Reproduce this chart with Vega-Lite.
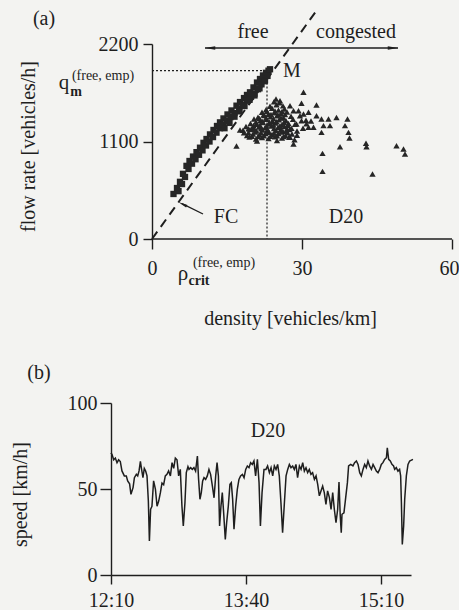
{
  "$schema": "https://vega.github.io/schema/vega-lite/v6.json",
  "background": "#f3f3f1",
  "padding": {"left": 10, "top": 4, "right": 0, "bottom": 0},
  "spacing": 35,
  "config": {
    "font": "Liberation Serif, Times New Roman, serif",
    "view": {"stroke": null},
    "axis": {
      "grid": false,
      "domainColor": "#1e1e1e",
      "tickColor": "#1e1e1e",
      "labelColor": "#1e1e1e",
      "titleColor": "#1e1e1e",
      "labelFont": "Liberation Serif, Times New Roman, serif",
      "titleFont": "Liberation Serif, Times New Roman, serif",
      "labelFontSize": 20,
      "titleFontSize": 20,
      "titleFontWeight": "normal",
      "labelFlush": false,
      "domainWidth": 1.4,
      "tickWidth": 1.4
    },
    "text": {"font": "Liberation Serif, Times New Roman, serif", "color": "#1e1e1e"}
  },
  "vconcat": [
    {
      "width": 341,
      "height": 195,
      "encoding": {
        "x": {"field": "d", "type": "quantitative",
          "scale": {"domain": [-8.2, 60], "nice": false, "zero": false},
          "axis": {"values": [0, 30, 60], "domain": false, "tickSize": 10, "labelPadding": 9, "format": "d",
            "labelFlush": true, "labelFlushOffset": 7,
            "title": "density [vehicles/km]", "titleX": 179, "titleY": 79, "titleAlign": "center", "titleBaseline": "middle"}},
        "y": {"field": "q", "type": "quantitative",
          "scale": {"domain": [0, 2200], "nice": false},
          "axis": {"values": [0, 1100, 2200], "offset": -41, "tickSize": 9, "labelPadding": 5, "format": "d",
            "title": "flow rate [vehicles/h]", "titleX": -124, "titleY": 102, "titleAlign": "center", "titleBaseline": "middle", "titleAngle": 270}}
      },
      "layer": [
        {
          "data": {"values": [{"d": 0, "q": 0, "d2": 60, "q2": 0}]},
          "mark": {"type": "rule", "color": "#1e1e1e", "strokeWidth": 1.4},
          "encoding": {"x2": {"field": "d2"}, "y2": {"field": "q2"}}
        },
        {
          "data": {"values": [{"d": 0, "q": 1900, "d2": 23, "q2": 1900}, {"d": 23, "q": 1900, "d2": 23, "q2": 0}]},
          "mark": {"type": "rule", "color": "#1e1e1e", "strokeWidth": 1.2, "strokeDash": [2, 2]},
          "encoding": {"x2": {"field": "d2"}, "y2": {"field": "q2"}}
        },
        {
          "data": {"values": [{"d": 0, "q": 0}, {"d": 33.2, "q": 2600}]},
          "mark": {"type": "line", "color": "#1e1e1e", "strokeWidth": 2, "strokeDash": [9, 6]},
          "encoding": {}
        },
        {
          "data": {"values": [
            {"d": 4.3, "q": 508, "regime": "free"}, {"d": 5.0, "q": 575, "regime": "free"}, {"d": 5.6, "q": 645, "regime": "free"},
            {"d": 6.2, "q": 735, "regime": "free"}, {"d": 6.9, "q": 825, "regime": "free"}, {"d": 7.5, "q": 880, "regime": "free"},
            {"d": 8.2, "q": 930, "regime": "free"}, {"d": 8.9, "q": 980, "regime": "free"}, {"d": 9.6, "q": 1030, "regime": "free"},
            {"d": 10.3, "q": 1085, "regime": "free"}, {"d": 10.9, "q": 1128, "regime": "free"}, {"d": 11.6, "q": 1180, "regime": "free"},
            {"d": 12.3, "q": 1230, "regime": "free"}, {"d": 13.0, "q": 1275, "regime": "free"}, {"d": 13.6, "q": 1316, "regime": "free"},
            {"d": 14.3, "q": 1360, "regime": "free"}, {"d": 15.1, "q": 1405, "regime": "free"}, {"d": 15.9, "q": 1450, "regime": "free"},
            {"d": 16.9, "q": 1504, "regime": "free"}, {"d": 17.6, "q": 1545, "regime": "free"}, {"d": 18.4, "q": 1590, "regime": "free"},
            {"d": 19.0, "q": 1625, "regime": "free"}, {"d": 19.6, "q": 1655, "regime": "free"}, {"d": 20.3, "q": 1710, "regime": "free"},
            {"d": 21.0, "q": 1765, "regime": "free"}, {"d": 21.6, "q": 1805, "regime": "free"}, {"d": 22.2, "q": 1845, "regime": "free"},
            {"d": 22.8, "q": 1875, "regime": "free"}, {"d": 23.3, "q": 1899, "regime": "free"}, {"d": 23.6, "q": 1915, "regime": "free"},
            {"d": 5.3, "q": 540, "regime": "free"}, {"d": 6.0, "q": 620, "regime": "free"}, {"d": 6.6, "q": 700, "regime": "free"},
            {"d": 7.3, "q": 790, "regime": "free"}, {"d": 8.0, "q": 850, "regime": "free"}, {"d": 8.7, "q": 900, "regime": "free"},
            {"d": 9.4, "q": 950, "regime": "free"}, {"d": 10.1, "q": 1000, "regime": "free"}, {"d": 10.8, "q": 1055, "regime": "free"},
            {"d": 11.5, "q": 1100, "regime": "free"}, {"d": 12.2, "q": 1150, "regime": "free"}, {"d": 12.9, "q": 1200, "regime": "free"},
            {"d": 13.6, "q": 1250, "regime": "free"}, {"d": 14.3, "q": 1290, "regime": "free"}, {"d": 15.0, "q": 1330, "regime": "free"},
            {"d": 15.7, "q": 1375, "regime": "free"}, {"d": 16.5, "q": 1420, "regime": "free"}, {"d": 17.4, "q": 1470, "regime": "free"},
            {"d": 18.2, "q": 1515, "regime": "free"}, {"d": 19.0, "q": 1560, "regime": "free"}, {"d": 19.8, "q": 1605, "regime": "free"},
            {"d": 20.5, "q": 1640, "regime": "free"}, {"d": 21.2, "q": 1690, "regime": "free"}, {"d": 21.9, "q": 1745, "regime": "free"},
            {"d": 22.6, "q": 1790, "regime": "free"}, {"d": 23.1, "q": 1840, "regime": "free"},
            {"d": 14.5, "q": 1250, "regime": "free"}, {"d": 15.5, "q": 1310, "regime": "free"}, {"d": 16.5, "q": 1380, "regime": "free"},
            {"d": 17.5, "q": 1440, "regime": "free"}, {"d": 18.5, "q": 1500, "regime": "free"}, {"d": 19.5, "q": 1570, "regime": "free"},
            {"d": 20.5, "q": 1620, "regime": "free"}, {"d": 21.5, "q": 1700, "regime": "free"}, {"d": 22.5, "q": 1780, "regime": "free"},
            {"d": 19.5, "q": 1150, "regime": "congested"}, {"d": 20.8, "q": 1128, "regime": "congested"}, {"d": 22.0, "q": 1144, "regime": "congested"},
            {"d": 23.3, "q": 1134, "regime": "congested"}, {"d": 24.6, "q": 1154, "regime": "congested"}, {"d": 26.0, "q": 1138, "regime": "congested"},
            {"d": 27.4, "q": 1150, "regime": "congested"},
            {"d": 19.0, "q": 1168, "regime": "congested"}, {"d": 20.2, "q": 1184, "regime": "congested"}, {"d": 21.5, "q": 1174, "regime": "congested"},
            {"d": 22.7, "q": 1194, "regime": "congested"}, {"d": 24.0, "q": 1178, "regime": "congested"}, {"d": 25.3, "q": 1190, "regime": "congested"},
            {"d": 26.7, "q": 1168, "regime": "congested"}, {"d": 28.0, "q": 1184, "regime": "congested"},
            {"d": 18.2, "q": 1226, "regime": "congested"}, {"d": 19.6, "q": 1234, "regime": "congested"}, {"d": 20.9, "q": 1218, "regime": "congested"},
            {"d": 22.1, "q": 1230, "regime": "congested"}, {"d": 23.4, "q": 1208, "regime": "congested"}, {"d": 24.8, "q": 1224, "regime": "congested"},
            {"d": 26.2, "q": 1214, "regime": "congested"}, {"d": 27.5, "q": 1234, "regime": "congested"}, {"d": 29.0, "q": 1218, "regime": "congested"},
            {"d": 18.8, "q": 1270, "regime": "congested"}, {"d": 20.1, "q": 1248, "regime": "congested"}, {"d": 21.4, "q": 1264, "regime": "congested"},
            {"d": 22.6, "q": 1254, "regime": "congested"}, {"d": 23.9, "q": 1274, "regime": "congested"}, {"d": 25.2, "q": 1258, "regime": "congested"},
            {"d": 26.5, "q": 1270, "regime": "congested"}, {"d": 27.9, "q": 1248, "regime": "congested"},
            {"d": 19.7, "q": 1304, "regime": "congested"}, {"d": 20.9, "q": 1294, "regime": "congested"}, {"d": 22.2, "q": 1314, "regime": "congested"},
            {"d": 23.4, "q": 1298, "regime": "congested"}, {"d": 24.7, "q": 1310, "regime": "congested"}, {"d": 26.0, "q": 1288, "regime": "congested"},
            {"d": 27.3, "q": 1304, "regime": "congested"}, {"d": 28.6, "q": 1294, "regime": "congested"},
            {"d": 20.4, "q": 1354, "regime": "congested"}, {"d": 21.7, "q": 1338, "regime": "congested"}, {"d": 22.9, "q": 1350, "regime": "congested"},
            {"d": 24.1, "q": 1328, "regime": "congested"}, {"d": 25.4, "q": 1344, "regime": "congested"}, {"d": 26.8, "q": 1334, "regime": "congested"},
            {"d": 28.2, "q": 1352, "regime": "congested"},
            {"d": 21.2, "q": 1374, "regime": "congested"}, {"d": 22.5, "q": 1394, "regime": "congested"}, {"d": 23.7, "q": 1378, "regime": "congested"},
            {"d": 25.0, "q": 1390, "regime": "congested"}, {"d": 26.3, "q": 1368, "regime": "congested"}, {"d": 27.8, "q": 1384, "regime": "congested"},
            {"d": 22.0, "q": 1430, "regime": "congested"}, {"d": 23.3, "q": 1408, "regime": "congested"}, {"d": 24.5, "q": 1424, "regime": "congested"},
            {"d": 25.8, "q": 1414, "regime": "congested"}, {"d": 27.0, "q": 1434, "regime": "congested"},
            {"d": 22.8, "q": 1458, "regime": "congested"}, {"d": 24.0, "q": 1474, "regime": "congested"}, {"d": 25.3, "q": 1454, "regime": "congested"},
            {"d": 26.5, "q": 1466, "regime": "congested"},
            {"d": 23.6, "q": 1498, "regime": "congested"}, {"d": 24.9, "q": 1514, "regime": "congested"}, {"d": 26.2, "q": 1502, "regime": "congested"},
            {"d": 24.4, "q": 1548, "regime": "congested"}, {"d": 25.5, "q": 1536, "regime": "congested"},
            {"d": 20.0, "q": 1160, "regime": "congested"}, {"d": 21.2, "q": 1156, "regime": "congested"}, {"d": 22.4, "q": 1166, "regime": "congested"},
            {"d": 23.7, "q": 1158, "regime": "congested"}, {"d": 25.0, "q": 1164, "regime": "congested"}, {"d": 26.3, "q": 1156, "regime": "congested"},
            {"d": 19.3, "q": 1200, "regime": "congested"}, {"d": 20.6, "q": 1206, "regime": "congested"}, {"d": 21.8, "q": 1198, "regime": "congested"},
            {"d": 23.0, "q": 1204, "regime": "congested"}, {"d": 24.4, "q": 1196, "regime": "congested"}, {"d": 25.8, "q": 1206, "regime": "congested"},
            {"d": 27.1, "q": 1200, "regime": "congested"},
            {"d": 19.3, "q": 1244, "regime": "congested"}, {"d": 20.5, "q": 1238, "regime": "congested"}, {"d": 21.8, "q": 1244, "regime": "congested"},
            {"d": 23.1, "q": 1236, "regime": "congested"}, {"d": 24.4, "q": 1246, "regime": "congested"}, {"d": 25.8, "q": 1238, "regime": "congested"},
            {"d": 27.0, "q": 1242, "regime": "congested"},
            {"d": 20.3, "q": 1280, "regime": "congested"}, {"d": 21.6, "q": 1284, "regime": "congested"}, {"d": 22.9, "q": 1276, "regime": "congested"},
            {"d": 24.3, "q": 1286, "regime": "congested"}, {"d": 25.6, "q": 1278, "regime": "congested"}, {"d": 27.2, "q": 1282, "regime": "congested"},
            {"d": 20.8, "q": 1320, "regime": "congested"}, {"d": 22.1, "q": 1326, "regime": "congested"}, {"d": 23.5, "q": 1318, "regime": "congested"},
            {"d": 24.9, "q": 1324, "regime": "congested"}, {"d": 26.4, "q": 1316, "regime": "congested"},
            {"d": 21.5, "q": 1360, "regime": "congested"}, {"d": 22.8, "q": 1366, "regime": "congested"}, {"d": 24.3, "q": 1358, "regime": "congested"},
            {"d": 25.8, "q": 1364, "regime": "congested"},
            {"d": 22.3, "q": 1400, "regime": "congested"}, {"d": 23.8, "q": 1404, "regime": "congested"}, {"d": 25.2, "q": 1398, "regime": "congested"},
            {"d": 26.6, "q": 1404, "regime": "congested"},
            {"d": 23.0, "q": 1440, "regime": "congested"}, {"d": 24.6, "q": 1444, "regime": "congested"}, {"d": 26.0, "q": 1438, "regime": "congested"},
            {"d": 17.6, "q": 1230, "regime": "congested"}, {"d": 18.4, "q": 1200, "regime": "congested"}, {"d": 16.9, "q": 1050, "regime": "congested"},
            {"d": 21.0, "q": 1105, "regime": "congested"}, {"d": 25.0, "q": 1110, "regime": "congested"}, {"d": 28.5, "q": 1120, "regime": "congested"},
            {"d": 29.0, "q": 1170, "regime": "congested"}, {"d": 30.2, "q": 1250, "regime": "congested"},
            {"d": 30.3, "q": 1655, "regime": "congested"}, {"d": 29.9, "q": 1531, "regime": "congested"}, {"d": 32.9, "q": 1512, "regime": "congested"},
            {"d": 24.8, "q": 1579, "regime": "congested"}, {"d": 25.6, "q": 1561, "regime": "congested"}, {"d": 27.6, "q": 1504, "regime": "congested"},
            {"d": 28.3, "q": 1448, "regime": "congested"}, {"d": 29.3, "q": 1448, "regime": "congested"}, {"d": 30.3, "q": 1410, "regime": "congested"},
            {"d": 31.3, "q": 1429, "regime": "congested"}, {"d": 32.9, "q": 1391, "regime": "congested"}, {"d": 33.9, "q": 1354, "regime": "congested"},
            {"d": 35.3, "q": 1354, "regime": "congested"}, {"d": 36.9, "q": 1372, "regime": "congested"}, {"d": 39.1, "q": 1354, "regime": "congested"},
            {"d": 38.6, "q": 1279, "regime": "congested"}, {"d": 34.3, "q": 1279, "regime": "congested"}, {"d": 35.6, "q": 1279, "regime": "congested"},
            {"d": 32.3, "q": 1260, "regime": "congested"}, {"d": 31.3, "q": 1260, "regime": "congested"}, {"d": 33.9, "q": 1203, "regime": "congested"},
            {"d": 39.3, "q": 1203, "regime": "congested"}, {"d": 39.5, "q": 1139, "regime": "congested"}, {"d": 37.6, "q": 1042, "regime": "congested"},
            {"d": 42.8, "q": 1079, "regime": "congested"}, {"d": 42.9, "q": 1042, "regime": "congested"}, {"d": 48.9, "q": 1053, "regime": "congested"},
            {"d": 50.3, "q": 1015, "regime": "congested"}, {"d": 50.6, "q": 959, "regime": "congested"}, {"d": 34.1, "q": 966, "regime": "congested"},
            {"d": 34.1, "q": 763, "regime": "congested"}, {"d": 44.1, "q": 733, "regime": "congested"}, {"d": 28.3, "q": 1072, "regime": "congested"},
            {"d": 27.6, "q": 1147, "regime": "congested"}, {"d": 26.9, "q": 1222, "regime": "congested"}, {"d": 28.9, "q": 1297, "regime": "congested"},
            {"d": 29.9, "q": 1335, "regime": "congested"}, {"d": 30.8, "q": 1340, "regime": "congested"}, {"d": 31.8, "q": 1330, "regime": "congested"},
            {"d": 29.6, "q": 1390, "regime": "congested"}, {"d": 30.9, "q": 1300, "regime": "congested"}
          ]},
          "mark": {"type": "point", "filled": true, "size": 40, "opacity": 1, "color": "#262626"},
          "encoding": {
            "shape": {"field": "regime", "type": "nominal", "scale": {"domain": ["free", "congested"], "range": ["square", "triangle-up"]}, "legend": null}
          }
        },
        {
          "data": {"values": [{"d": 10.6, "q": 2155, "d2": 49.2, "q2": 2155}, {"d": 10.2, "q": 282, "d2": 6.0, "q2": 400}]},
          "mark": {"type": "rule", "color": "#1e1e1e", "strokeWidth": 1.3},
          "encoding": {"x2": {"field": "d2"}, "y2": {"field": "q2"}}
        },
        {
          "data": {"values": [{"d": 11.6, "q": 2155}]},
          "mark": {"type": "point", "filled": true, "size": 110, "opacity": 1, "color": "#1e1e1e", "shape": "M-1,0L1,-0.32L1,0.32Z"},
          "encoding": {}
        },
        {
          "data": {"values": [{"d": 48.2, "q": 2155}]},
          "mark": {"type": "point", "filled": true, "size": 110, "opacity": 1, "color": "#1e1e1e", "shape": "M1,0L-1,-0.32L-1,0.32Z"},
          "encoding": {}
        },
        {
          "data": {"values": [{"d": 6.1, "q": 393}]},
          "mark": {"type": "point", "filled": true, "size": 90, "opacity": 1, "color": "#1e1e1e", "shape": "M-1,0L1,-0.32L1,0.32Z", "angle": 26},
          "encoding": {}
        },
        {
          "data": {"values": [
            {"d": -21.6, "q": 2482, "label": "(a)"},
            {"d": 20.2, "q": 2335, "label": "free"},
            {"d": 40.8, "q": 2335, "label": "congested"},
            {"d": 28.0, "q": 1899, "label": "M"},
            {"d": 14.8, "q": 248, "label": "FC"},
            {"d": 38.8, "q": 248, "label": "D20"}
          ]},
          "mark": {"type": "text", "fontSize": 20, "align": "center", "baseline": "middle"},
          "encoding": {"text": {"field": "label"}}
        },
        {
          "data": {"values": [
            {"d": -17.6, "q": 1692, "label": "q"},
            {"d": 6.2, "q": -463, "label": "ρ"}
          ]},
          "mark": {"type": "text", "fontSize": 21, "align": "center", "baseline": "alphabetic"},
          "encoding": {"text": {"field": "label"}}
        },
        {
          "data": {"values": [
            {"d": -9.8, "q": 1794, "label": "(free, emp)"},
            {"d": 14.4, "q": -316, "label": "(free, emp)"}
          ]},
          "mark": {"type": "text", "fontSize": 14, "align": "center", "baseline": "alphabetic"},
          "encoding": {"text": {"field": "label"}}
        },
        {
          "data": {"values": [
            {"d": -15.2, "q": 1613, "label": "m"},
            {"d": 9.4, "q": -519, "label": "crit"}
          ]},
          "mark": {"type": "text", "fontSize": 14, "fontWeight": "bold", "align": "center", "baseline": "alphabetic"},
          "encoding": {"text": {"field": "label"}}
        }
      ]
    },
    {
      "width": 300,
      "height": 172,
      "encoding": {
        "x": {"field": "t", "type": "quantitative",
          "scale": {"domain": [0, 200], "nice": false, "zero": false},
          "axis": {"values": [0, 90, 180], "tickSize": 9, "labelPadding": 6, "title": null,
            "labelExpr": "datum.value == 0 ? '12:10' : datum.value == 90 ? '13:40' : '15:10'"}},
        "y": {"field": "v", "type": "quantitative",
          "scale": {"domain": [0, 100], "nice": false},
          "axis": {"values": [0, 50, 100], "tickSize": 11, "labelPadding": 3,
            "title": "speed [km/h]", "titleX": -91, "titleY": 91, "titleAlign": "center", "titleBaseline": "middle", "titleAngle": 270}}
      },
      "layer": [
        {
          "data": {"values": [
            {"t": 0, "v": 71}, {"t": 0.7, "v": 70}, {"t": 1.8, "v": 67}, {"t": 2.9, "v": 68}, {"t": 4.0, "v": 65.3}, {"t": 5.1, "v": 67},
            {"t": 6.2, "v": 66}, {"t": 7.3, "v": 60.5}, {"t": 8.9, "v": 57.6}, {"t": 10.2, "v": 57.6}, {"t": 11.1, "v": 54.7}, {"t": 12.4, "v": 53},
            {"t": 13.3, "v": 46.9}, {"t": 14.7, "v": 50.8}, {"t": 15.6, "v": 56.6}, {"t": 16.9, "v": 58.5}, {"t": 17.8, "v": 57.6}, {"t": 18.7, "v": 60.5},
            {"t": 19.6, "v": 66}, {"t": 20.4, "v": 61.4}, {"t": 21.3, "v": 56.6}, {"t": 22.2, "v": 62}, {"t": 23.1, "v": 60.5}, {"t": 24.0, "v": 57.6},
            {"t": 24.9, "v": 43}, {"t": 25.6, "v": 19.8}, {"t": 26.4, "v": 38.2}, {"t": 27.3, "v": 40}, {"t": 28.4, "v": 54.7}, {"t": 29.6, "v": 50},
            {"t": 30.7, "v": 40}, {"t": 31.8, "v": 43}, {"t": 32.9, "v": 47.7}, {"t": 34.0, "v": 53.5}, {"t": 35.1, "v": 52.5}, {"t": 36.2, "v": 57.6},
            {"t": 37.3, "v": 58.5}, {"t": 38.4, "v": 60.5}, {"t": 39.6, "v": 57.6}, {"t": 40.7, "v": 65.3}, {"t": 41.8, "v": 62}, {"t": 42.9, "v": 68},
            {"t": 44.0, "v": 67}, {"t": 45.1, "v": 57.6}, {"t": 46.2, "v": 61.4}, {"t": 47.3, "v": 40}, {"t": 48.2, "v": 28.5}, {"t": 49.3, "v": 42},
            {"t": 50.2, "v": 59.5}, {"t": 51.3, "v": 63}, {"t": 52.0, "v": 61.4}, {"t": 53.1, "v": 62.4}, {"t": 54.2, "v": 61.4}, {"t": 55.3, "v": 62.4},
            {"t": 56.4, "v": 60.4}, {"t": 57.6, "v": 69.2}, {"t": 58.4, "v": 55.6}, {"t": 59.3, "v": 44}, {"t": 60.2, "v": 47.9}, {"t": 61.1, "v": 54.7},
            {"t": 62.0, "v": 56.6}, {"t": 63.1, "v": 55.6}, {"t": 64.2, "v": 57.6}, {"t": 65.3, "v": 61.4}, {"t": 66.4, "v": 58.5}, {"t": 67.6, "v": 51.7},
            {"t": 68.7, "v": 44.9}, {"t": 69.8, "v": 57.6}, {"t": 70.7, "v": 65.3}, {"t": 71.6, "v": 57.6}, {"t": 72.4, "v": 28.5}, {"t": 73.3, "v": 40},
            {"t": 74.2, "v": 47.9}, {"t": 75.1, "v": 36.2}, {"t": 76.2, "v": 20.7}, {"t": 77.1, "v": 30.4}, {"t": 78.2, "v": 40}, {"t": 79.3, "v": 52.7},
            {"t": 80.2, "v": 53.7}, {"t": 81.1, "v": 44}, {"t": 82.0, "v": 26.6}, {"t": 83.1, "v": 40}, {"t": 84.2, "v": 49.8}, {"t": 85.3, "v": 55.6},
            {"t": 86.4, "v": 57.6}, {"t": 87.6, "v": 58.5}, {"t": 88.7, "v": 56.6}, {"t": 89.8, "v": 61.4}, {"t": 90.9, "v": 63.4}, {"t": 92.0, "v": 62.4},
            {"t": 93.1, "v": 65.3}, {"t": 94.2, "v": 64.3}, {"t": 95.3, "v": 66.3}, {"t": 96.4, "v": 57.6}, {"t": 97.6, "v": 67.2}, {"t": 98.7, "v": 53.7},
            {"t": 99.6, "v": 28.5}, {"t": 100.7, "v": 47.9}, {"t": 102.0, "v": 61.4}, {"t": 103.3, "v": 61.4}, {"t": 104.4, "v": 63.4}, {"t": 105.6, "v": 59.5},
            {"t": 106.7, "v": 62.4}, {"t": 107.8, "v": 57.6}, {"t": 108.9, "v": 63.4}, {"t": 110.0, "v": 61.4}, {"t": 111.1, "v": 64.3}, {"t": 112.2, "v": 57.6},
            {"t": 113.3, "v": 42}, {"t": 114.4, "v": 24.6}, {"t": 115.6, "v": 42}, {"t": 116.7, "v": 57.6}, {"t": 117.8, "v": 61.4}, {"t": 118.9, "v": 64.3},
            {"t": 120.0, "v": 62.4}, {"t": 121.1, "v": 63.4}, {"t": 122.2, "v": 61.4}, {"t": 123.3, "v": 64.3}, {"t": 124.4, "v": 56.6}, {"t": 125.6, "v": 63.4},
            {"t": 126.7, "v": 61.4}, {"t": 127.8, "v": 65.3}, {"t": 128.9, "v": 60.4}, {"t": 130.0, "v": 62.4}, {"t": 131.1, "v": 59.5}, {"t": 132.2, "v": 61.4},
            {"t": 133.3, "v": 58.5}, {"t": 134.4, "v": 59.5}, {"t": 135.6, "v": 55.6}, {"t": 136.7, "v": 57.6}, {"t": 137.8, "v": 52.7}, {"t": 138.9, "v": 46},
            {"t": 140.0, "v": 48.9}, {"t": 141.1, "v": 51.7}, {"t": 142.2, "v": 47.9}, {"t": 143.3, "v": 41}, {"t": 144.4, "v": 48.9}, {"t": 145.6, "v": 45},
            {"t": 146.7, "v": 38.1}, {"t": 147.8, "v": 47.9}, {"t": 148.9, "v": 38.1}, {"t": 150.0, "v": 30.4}, {"t": 151.1, "v": 38.1}, {"t": 152.0, "v": 54},
            {"t": 152.8, "v": 35}, {"t": 153.5, "v": 24.6}, {"t": 154.0, "v": 35.3}, {"t": 155.3, "v": 36.2}, {"t": 156.2, "v": 43}, {"t": 157.6, "v": 53.7},
            {"t": 158.4, "v": 63.4}, {"t": 159.8, "v": 64.3}, {"t": 161.3, "v": 63.4}, {"t": 162.4, "v": 65.3}, {"t": 163.6, "v": 66.3}, {"t": 164.7, "v": 64.3},
            {"t": 165.8, "v": 59.5}, {"t": 166.9, "v": 57.6}, {"t": 168.0, "v": 61.4}, {"t": 169.1, "v": 64.3}, {"t": 170.2, "v": 62.4}, {"t": 171.3, "v": 66.3},
            {"t": 172.4, "v": 63.4}, {"t": 173.6, "v": 61.4}, {"t": 174.7, "v": 64.3}, {"t": 175.8, "v": 62.4}, {"t": 176.9, "v": 60.4}, {"t": 178.0, "v": 59.5},
            {"t": 179.1, "v": 61.4}, {"t": 180.2, "v": 64.3}, {"t": 181.3, "v": 65.3}, {"t": 182.4, "v": 67.2}, {"t": 183.6, "v": 68.2}, {"t": 184.2, "v": 74},
            {"t": 185.1, "v": 67.2}, {"t": 186.2, "v": 66.3}, {"t": 187.3, "v": 64.3}, {"t": 188.4, "v": 63.4}, {"t": 189.1, "v": 61.4}, {"t": 190.2, "v": 62.4},
            {"t": 191.3, "v": 60.4}, {"t": 192.4, "v": 61.4}, {"t": 193.1, "v": 57.6}, {"t": 193.6, "v": 42}, {"t": 194.2, "v": 17.8}, {"t": 195.1, "v": 28.5},
            {"t": 195.8, "v": 44}, {"t": 196.9, "v": 57.6}, {"t": 198.0, "v": 64.3}, {"t": 199.1, "v": 66.3}, {"t": 201.3, "v": 67.2}
          ]},
          "mark": {"type": "line", "color": "#1e1e1e", "strokeWidth": 1.5},
          "encoding": {}
        },
        {
          "data": {"values": [
            {"t": 104.7, "v": 83.7, "label": "D20"},
            {"t": -48, "v": 117.4, "label": "(b)"}
          ]},
          "mark": {"type": "text", "fontSize": 20, "align": "center", "baseline": "middle"},
          "encoding": {"text": {"field": "label"}}
        }
      ]
    }
  ]
}
